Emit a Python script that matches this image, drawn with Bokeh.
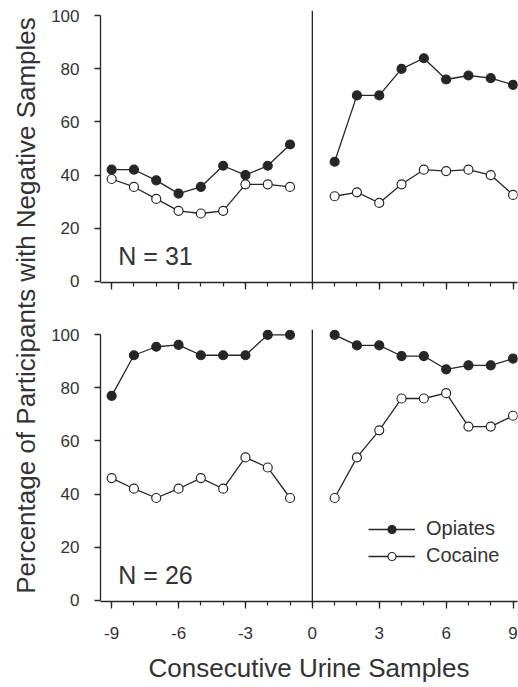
from bokeh.plotting import figure
from bokeh.models import Range1d, FixedTicker, Span, Label, Legend, LegendItem
from bokeh.layouts import row, column
from bokeh.embed import file_html
from bokeh.resources import INLINE

FONT = "Liberation Sans"
TXT = "#333333"
INK = "#262626"

# ---- data ----
x_pre = [-9, -8, -7, -6, -5, -4, -3, -2, -1]
x_post = [1, 2, 3, 4, 5, 6, 7, 8, 9]

# Top panel (N = 31)
opiates_pre_31 = [42, 42, 38, 33, 35.5, 43.5, 40, 43.5, 51.5]
cocaine_pre_31 = [38.5, 35.5, 31, 26.5, 25.5, 26.5, 36.5, 36.5, 35.5]
opiates_post_31 = [45, 70, 70, 80, 84, 76, 77.5, 76.5, 74]
cocaine_post_31 = [32, 33.5, 29.5, 36.5, 42, 41.5, 42, 40, 32.5]

# Bottom panel (N = 26)
opiates_pre_26 = [77, 92.3, 95.5, 96.2, 92.3, 92.3, 92.3, 100, 100]
cocaine_pre_26 = [46, 42, 38.5, 42, 46, 42, 53.8, 50, 38.5]
opiates_post_26 = [100, 96, 96, 92, 92, 87, 88.5, 88.5, 91]
cocaine_post_26 = [38.5, 53.8, 64, 76, 76, 78, 65.4, 65.4, 69.5]

x_ticks = [-9, -6, -3, 0, 3, 6, 9]
x_tick_labels = ["-9", "-6", "-3", "0", "3", "6", "9"]
x_minor = list(range(-9, 10))
y_ticks = [0, 20, 40, 60, 80, 100]

series_names = ["Opiates", "Cocaine"]
panel_labels = ["N = 31", "N = 26"]
x_title = "Consecutive Urine Samples"
y_title = "Percentage of Participants with Negative Samples"


def make_panel(height, b_top, b_bottom, op_pre, co_pre, op_post, co_post,
               n_label, show_xlabels, with_legend):
    p = figure(width=476, height=height,
               x_range=Range1d(-9.5, 9.2), y_range=Range1d(-0.5, 102),
               output_backend="svg", toolbar_location=None,
               min_border_left=58, min_border_right=1,
               min_border_top=b_top, min_border_bottom=b_bottom)
    p.outline_line_color = None
    p.xgrid.visible = False
    p.ygrid.visible = False
    p.background_fill_color = "white"

    xa = p.xaxis[0]
    xa.ticker = FixedTicker(ticks=x_ticks, minor_ticks=x_minor)
    xa.axis_line_color = INK
    xa.axis_line_width = 1.3
    xa.major_tick_line_color = INK
    xa.major_tick_line_width = 1.3
    xa.minor_tick_line_color = INK
    xa.minor_tick_line_width = 1.2
    xa.major_tick_in = 0
    xa.major_tick_out = 7
    xa.minor_tick_in = 0
    xa.minor_tick_out = 4
    xa.major_label_text_font = FONT
    xa.major_label_text_font_size = "17px"
    xa.major_label_text_color = TXT
    if show_xlabels:
        xa.major_label_overrides = dict(zip(x_ticks, x_tick_labels))
        xa.major_label_standoff = 18
        xa.axis_label = x_title
        xa.axis_label_text_font = FONT
        xa.axis_label_text_font_size = "26px"
        xa.axis_label_text_font_style = "normal"
        xa.axis_label_text_color = TXT
        xa.axis_label_standoff = 11
    else:
        xa.major_label_overrides = {t: "" for t in x_ticks}
        xa.major_label_standoff = 0
        xa.major_label_text_font_size = "1px"

    ya = p.yaxis[0]
    ya.ticker = FixedTicker(ticks=y_ticks, minor_ticks=[])
    ya.bounds = (0, 100)
    ya.axis_line_color = INK
    ya.axis_line_width = 1.3
    ya.major_tick_line_color = INK
    ya.major_tick_line_width = 1.3
    ya.major_tick_in = 0
    ya.major_tick_out = 6
    ya.minor_tick_in = 0
    ya.minor_tick_out = 0
    ya.major_label_text_font = FONT
    ya.major_label_text_font_size = "17px"
    ya.major_label_text_color = TXT
    ya.major_label_standoff = 15

    p.add_layout(Span(location=0, dimension="height", line_color=INK, line_width=1.3))

    rends = {}
    for xs, ys, filled, key in [
        (x_pre, op_pre, True, "op_pre"), (x_post, op_post, True, "op_post"),
        (x_pre, co_pre, False, "co_pre"), (x_post, co_post, False, "co_post"),
    ]:
        l = p.line(xs, ys, line_color=INK, line_width=1.3)
        s = p.scatter(xs, ys, size=9, marker="circle",
                      fill_color=INK if filled else "white",
                      line_color=INK, line_width=1.2)
        rends[key] = (l, s)

    p.add_layout(Label(x=-8.7, y=9.5, text=n_label, text_font=FONT,
                       text_font_size="25px", text_color=TXT,
                       text_baseline="middle", text_align="left"))

    if with_legend:
        legend = Legend(items=[
            LegendItem(label=series_names[0], renderers=list(rends["op_post"])),
            LegendItem(label=series_names[1], renderers=list(rends["co_post"])),
        ], location=(268, 34), orientation="vertical",
            glyph_width=47, glyph_height=20, label_height=20,
            label_standoff=11, spacing=4, padding=0, margin=0,
            border_line_color=None, background_fill_alpha=0,
            label_text_font=FONT, label_text_font_size="20px",
            label_text_color=TXT)
        p.add_layout(legend)
    return p


top = make_panel(308, 10, 26, opiates_pre_31, cocaine_pre_31,
                 opiates_post_31, cocaine_post_31, panel_labels[0], False, False)
bottom = make_panel(377, 21, 83, opiates_pre_26, cocaine_pre_26,
                    opiates_post_26, cocaine_post_26, panel_labels[1], True, True)

lab = figure(width=42, height=685, x_range=Range1d(0, 42), y_range=Range1d(0, 685),
             output_backend="svg", toolbar_location=None, min_border=0,
             x_axis_type=None, y_axis_type=None)
lab.outline_line_color = None
lab.xgrid.visible = False
lab.ygrid.visible = False
lab.add_layout(Label(x=25, y=685 - 305, text=y_title, angle=90, angle_units="deg",
                     text_align="center", text_baseline="middle",
                     text_font=FONT, text_font_size="26px", text_color=TXT))

layout = row(lab, column(top, bottom))

with open("out.html", "w") as f:
    f.write(file_html(layout, INLINE))
